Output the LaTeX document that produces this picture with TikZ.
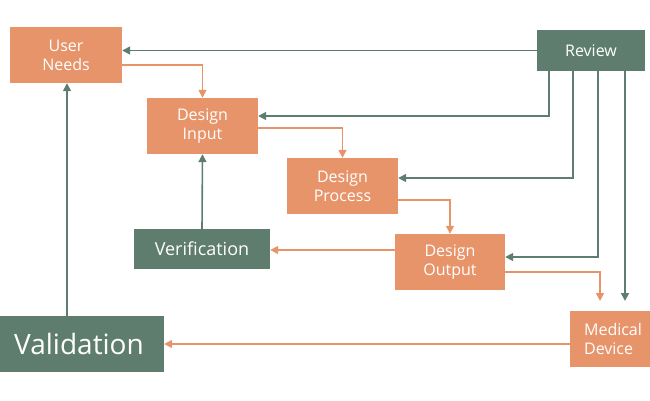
\documentclass[tikz,border=0pt]{standalone}
\usepackage{fontspec}
\setmainfont{Open Sans}
\usetikzlibrary{arrows.meta}
\definecolor{org}{HTML}{E8946A}
\definecolor{grn}{HTML}{5F7D6F}
\begin{document}
\begin{tikzpicture}[x=1pt,y=-1pt,
  box/.style={draw=none,text=white,align=center,font=\fontsize{16}{19}\selectfont,inner sep=0pt},
  ob/.style={box,fill=org},
  gb/.style={box,fill=grn},
  oa/.style={draw=org,line width=1.6pt,-{Triangle[length=8pt,width=8pt]}},
  ga/.style={draw=grn,line width=1.6pt,-{Triangle[length=8pt,width=8pt]}}]
\useasboundingbox (0,0) rectangle (650,400);
\begin{scope}
\clip (0,0) rectangle (650,400);
\node[ob,minimum width=112pt,minimum height=56pt] (un) at (66,55) {User\\Needs};
\node[gb,minimum width=108pt,minimum height=41pt] (rv) at (591,50.5) {Review};
\node[ob,minimum width=111pt,minimum height=56pt] (di) at (202.5,126) {Design\\Input};
\node[ob,minimum width=111pt,minimum height=56pt] (dp) at (342.5,186) {Design\\Process};
\node[ob,minimum width=110pt,minimum height=56pt] (do) at (450,262) {Design\\Output};
\node[gb,minimum width=136pt,minimum height=40pt,font=\fontsize{18}{21}\selectfont] (vf) at (202,249) {Verification};
\node[gb,minimum width=170pt,minimum height=56pt,font=\fontsize{28}{32}\selectfont] (va) at (79,344) {Validation};
\node[ob,minimum width=86pt,minimum height=56pt,align=left] (md) at (613,339) {Medical\\Device};
\end{scope}
\coordinate (r1) at (549,71);
\coordinate (r2) at (573,71);
\coordinate (r3) at (598,71);
\coordinate (r4) at (625,71);
\draw[ga] (rv.west) -- (un.east |- rv.west);
\draw[oa] (122,65) -| (di.north);
\draw[ga] (r1) |- (di.east |- 0,116);
\draw[ga] (r2) |- (dp.east |- 0,178);
\draw[ga] (r3) |- (do.east |- 0,257);
\draw[ga] (r4) -- (625,301);
\draw[oa] (258,128) -| (dp.north);
\draw[oa] (398,200) -| (do.north);
\draw[oa] (do.west |- 0,250) -- (vf.east |- 0,250);
\draw[ga] (vf.north) -- (di.south);
\draw[oa] (505,272) -| (600,301);
\draw[oa] (570,344) -- (va.east |- 0,344);
\draw[ga] (va.north -| 67,0) -- (un.south -| 67,0);
\end{tikzpicture}
\end{document}
